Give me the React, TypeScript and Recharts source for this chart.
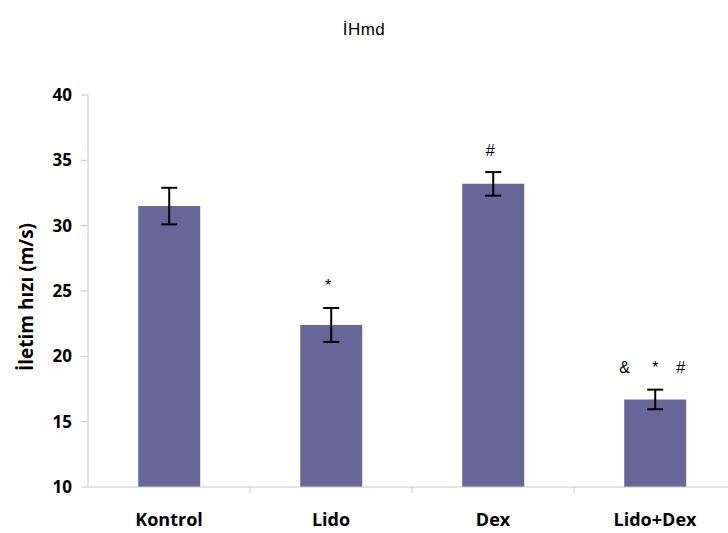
import { BarChart, Bar, XAxis, YAxis, ErrorBar, LabelList, Label } from "recharts"

const groups = ["Kontrol", "Lido", "Dex", "Lido+Dex"]
const speed = [31.5, 22.4, 33.2, 16.7]
const sem = [1.4, 1.3, 0.9, 0.75]
const marks = ["", "*", "#", "&     *    #"]
const yTicks = [10, 15, 20, 25, 30, 35, 40]

const data = groups.map((name, i) => ({ name, speed: speed[i], sem: sem[i], mark: marks[i] }))

const BOLD_FONT = "'Open Sans', Lato, sans-serif"
const PLAIN_FONT = "'Liberation Sans', Arial, sans-serif"
const AXIS_GREY = "#c8c8c8"
const Y_MIN = 10
const X_TICK = 6
const X_MARGIN = 27

// category label plus a tick mark on the boundary to its right
function GroupTick(props: any) {
  const { x, y, payload, index, width } = props
  const half = payload?.offset ?? width / (2 * groups.length)
  const axisY = y - X_TICK - X_MARGIN
  const edge = x + half
  return (
    <g>
      <text
        x={x}
        y={y}
        dy="0.355em"
        textAnchor="middle"
        fill="#000"
        fontFamily={BOLD_FONT}
        fontWeight={700}
        fontSize={18}
      >
        {payload.value}
      </text>
      {index < groups.length - 1 && (
        <line x1={edge} x2={edge} y1={axisY} y2={axisY + X_TICK} stroke={AXIS_GREY} />
      )}
    </g>
  )
}

function YTitle({ viewBox }: any) {
  const cx = viewBox.x + 26
  const cy = viewBox.y + viewBox.height / 2 + 6
  return (
    <text
      x={cx}
      y={cy}
      transform={`rotate(-90 ${cx} ${cy})`}
      textAnchor="middle"
      dominantBaseline="central"
      fill="#000"
      fontFamily={BOLD_FONT}
      fontWeight={700}
      fontSize={19}
    >
      İletim hızı (m/s)
    </text>
  )
}

// significance marks sit a little above the error bar cap
function MarkLabel(props: any) {
  const { x, y, width, height, value, index } = props
  if (!value) return null
  const perUnit = Number(height) / (speed[index] - Y_MIN)
  const top = Number(y) - sem[index] * perUnit
  return (
    <text
      x={Number(x) + Number(width) / 2 - 3}
      y={top - 22}
      textAnchor="middle"
      dominantBaseline="central"
      style={{ whiteSpace: "pre" }}
      fill="#000"
      fontFamily={PLAIN_FONT}
      fontSize={16}
    >
      {value}
    </text>
  )
}

export default function App() {
  return (
    <div
      style={{
        position: "absolute",
        left: 0,
        top: 0,
        width: 728,
        height: 533,
        overflow: "hidden",
        background: "#fff",
      }}
    >
      <div
        style={{
          position: "absolute",
          top: 20,
          left: 0,
          width: 728,
          textAlign: "center",
          fontFamily: PLAIN_FONT,
          fontSize: 17,
          letterSpacing: 0.5,
          lineHeight: "20px",
          color: "#000",
        }}
      >
        İHmd
      </div>
      <BarChart
        width={740}
        height={533}
        data={data}
        margin={{ top: 95, right: 4, bottom: 0, left: 0 }}
        barCategoryGap="31%"
      >
        <XAxis
          dataKey="name"
          height={46}
          stroke={AXIS_GREY}
          tickLine={false}
          tickSize={X_TICK}
          tickMargin={X_MARGIN}
          tick={<GroupTick />}
          interval={0}
        />
        <YAxis
          width={88}
          domain={[10, 40]}
          ticks={yTicks}
          interval={0}
          stroke={AXIS_GREY}
          tickSize={7}
          tickMargin={9}
          tick={{ fill: "#000", fontFamily: BOLD_FONT, fontWeight: 700, fontSize: 17 }}
        >
          <Label content={<YTitle />} />
        </YAxis>
        <Bar dataKey="speed" fill="#666699" isAnimationActive={false}>
          <ErrorBar dataKey="sem" width={8} stroke="#000" strokeWidth={2} />
          <LabelList dataKey="mark" content={<MarkLabel />} />
        </Bar>
      </BarChart>
    </div>
  )
}
